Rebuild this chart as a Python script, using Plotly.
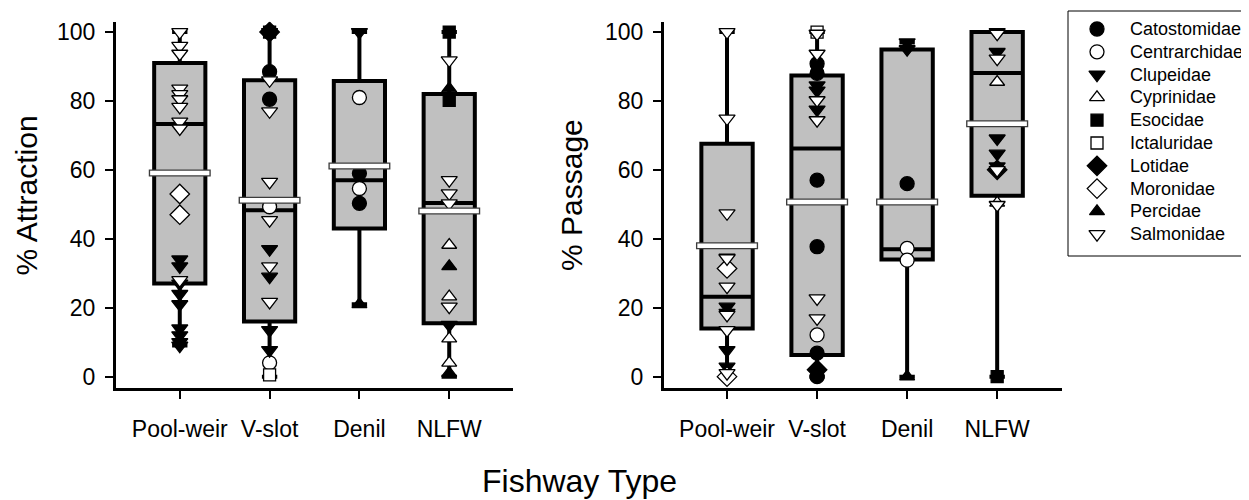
import plotly.graph_objects as go

fishways = ["Pool-weir", "V-slot", "Denil", "NLFW"]
xpos = [1, 2, 3, 4]

# ---- Box statistics: % Attraction ----
att_min = [9, 0, 21, 0]
att_q1 = [27, 16, 43, 15.5]
att_median = [73.3, 48.3, 57, 50.4]
att_q3 = [91, 86, 85.8, 82]
att_max = [100, 100, 100, 100]
att_mean = [59.1, 51.2, 61.1, 48.1]

# ---- Box statistics: % Passage ----
pas_min = [0, 0, 0, 0]
pas_q1 = [14, 6.3, 34, 52.5]
pas_median = [23.2, 66.2, 37, 88.1]
pas_q3 = [67.6, 87.4, 94.9, 100]
pas_max = [100, 100, 97, 100]
pas_mean = [38, 50.7, 50.7, 73.4]

# ---- Family points, % Attraction ----
att_catostomidae = {"V-slot": [100, 88.5, 80.5], "Denil": [59, 50.3]}
att_centrarchidae = {"V-slot": [49.3, 4], "Denil": [81, 54.6]}
att_clupeidae = {"Pool-weir": [34, 32, 27, 24, 21, 14, 12, 10, 9],
                 "V-slot": [100, 37, 29, 13.5, 7.7], "Denil": [100], "NLFW": [15]}
att_cyprinidae = {"NLFW": [38.2, 23.2, 11, 4]}
att_esocidae = {"V-slot": [100], "NLFW": [100, 80.2]}
att_ictaluridae = {"V-slot": [0.5]}
att_lotidae = {"V-slot": [100]}
att_moronidae = {"Pool-weir": [53, 47]}
att_percidae = {"Denil": [21], "NLFW": [83.6, 32, 1]}
att_salmonidae = {"Pool-weir": [100, 96, 93.7, 83.6, 82, 80.5, 78.3, 74, 72, 28],
                  "V-slot": [86, 77, 56.5, 45.4, 32, 21.7],
                  "NLFW": [91.8, 57, 53.2, 50.3, 20.3]}

# ---- Family points, % Passage ----
pas_catostomidae = {"V-slot": [90.8, 88, 57, 37.7, 6.8, 0], "Denil": [56]}
pas_centrarchidae = {"V-slot": [12.1], "Denil": [37.2, 33.8]}
pas_clupeidae = {"Pool-weir": [34.5, 20.3, 18.5, 7.7, 2.9],
                 "V-slot": [84.5, 83, 77.5], "Denil": [97, 95],
                 "NLFW": [100, 94.2, 69.1, 64.7, 61]}
pas_cyprinidae = {"NLFW": [85.5, 50.4]}
pas_esocidae = {"NLFW": [0]}
pas_ictaluridae = {"V-slot": [100]}
pas_lotidae = {"V-slot": [2], "NLFW": [60]}
pas_moronidae = {"Pool-weir": [31.4, 0]}
pas_percidae = {"Denil": [0]}
pas_salmonidae = {"Pool-weir": [100, 74.9, 47.4, 34.3, 26.1, 17.9, 13.5, 1],
                  "V-slot": [99.5, 93.7, 80.2, 74.4, 22.7, 16.9],
                  "NLFW": [99.5, 92.3, 59.9, 49.8]}

families = ["Catostomidae", "Centrarchidae", "Clupeidae", "Cyprinidae", "Esocidae",
            "Ictaluridae", "Lotidae", "Moronidae", "Percidae", "Salmonidae"]
att_sets = [att_catostomidae, att_centrarchidae, att_clupeidae, att_cyprinidae, att_esocidae,
            att_ictaluridae, att_lotidae, att_moronidae, att_percidae, att_salmonidae]
pas_sets = [pas_catostomidae, pas_centrarchidae, pas_clupeidae, pas_cyprinidae, pas_esocidae,
            pas_ictaluridae, pas_lotidae, pas_moronidae, pas_percidae, pas_salmonidae]
symbols = ["circle", "circle", "triangle-down", "triangle-up", "square",
           "square", "diamond", "diamond", "triangle-up", "triangle-down"]
fills = ["black", "white", "black", "white", "black",
         "white", "black", "white", "black", "white"]
marker_sizes = [14, 14, 14, 13, 12, 12, 15, 15, 13, 14]

FONT = "Arial, 'Liberation Sans', sans-serif"
BOX_W = 0.57
MEAN_HALF = 0.345

# The page body has an 8px margin: work in page pixels and convert to figure fractions.
PAGE_OFF = 8
W, H = 1249 - PAGE_OFF, 500 - PAGE_OFF


def fx(page_x):
    return (page_x - PAGE_OFF) / W


def fy(page_y):
    return 1 - (page_y - PAGE_OFF) / H


fig = go.Figure()

panels = [
    ("x", "y", att_min, att_q1, att_median, att_q3, att_max, att_mean, att_sets),
    ("x2", "y2", pas_min, pas_q1, pas_median, pas_q3, pas_max, pas_mean, pas_sets),
]

for pi, (xa, ya, mn, q1, md, q3, mx, mean, sets) in enumerate(panels):
    fig.add_trace(go.Box(
        x=xpos, q1=q1, median=md, q3=q3, lowerfence=mn, upperfence=mx,
        width=BOX_W, whiskerwidth=0.3, boxpoints=False,
        fillcolor="rgb(192,192,192)", line=dict(color="black", width=4),
        hoverinfo="skip", xaxis=xa, yaxis=ya))
    for fi, fam in enumerate(families):
        xs, ys = [], []
        for name, vals in sets[fi].items():
            k = xpos[fishways.index(name)]
            xs += [k] * len(vals)
            ys += vals
        fig.add_trace(go.Scatter(
            x=xs, y=ys, mode="markers", name=fam,
            marker=dict(symbol=symbols[fi], size=marker_sizes[fi], color=fills[fi],
                        line=dict(color="black", width=1.3)),
            xaxis=xa, yaxis=ya))
    # mean lines (white with dark outline)
    for k, m in zip(xpos, mean):
        fig.add_trace(go.Scatter(x=[k - MEAN_HALF, k + MEAN_HALF], y=[m, m], mode="lines",
                                 line=dict(color="rgb(60,60,60)", width=7),
                                 hoverinfo="skip", xaxis=xa, yaxis=ya))
        fig.add_trace(go.Scatter(x=[k - MEAN_HALF + 0.015, k + MEAN_HALF - 0.015], y=[m, m],
                                 mode="lines", line=dict(color="white", width=4.5),
                                 hoverinfo="skip", xaxis=xa, yaxis=ya))

# ---- Legend (drawn on an overlay axis scaled in page pixels) ----
LEG_LEFT, LEG_TOP, LEG_BOTTOM = 1068, 11, 256
LEG_SYM_X, LEG_TEXT_X, LEG_ROW0, LEG_STEP = 1097, 1128, 29, 22.8
leg_rows = [LEG_ROW0 + LEG_STEP * i for i in range(len(families))]
for fi, fam in enumerate(families):
    fig.add_trace(go.Scatter(
        x=[LEG_SYM_X], y=[leg_rows[fi]], mode="markers", hoverinfo="skip",
        marker=dict(symbol=symbols[fi], size=marker_sizes[fi], color=fills[fi],
                    line=dict(color="black", width=1.3)),
        xaxis="x3", yaxis="y3"))

annotations = [
    dict(text=fam, x=LEG_TEXT_X, y=leg_rows[fi], xref="x3", yref="y3", xanchor="left",
         yanchor="middle", showarrow=False, font=dict(size=18, family=FONT, color="black"))
    for fi, fam in enumerate(families)
]
annotations += [
    dict(text="% Attraction", x=fx(26.5), y=fy(196), xref="paper", yref="paper",
         xanchor="center", yanchor="middle", textangle=-90, showarrow=False,
         font=dict(size=30, family=FONT, color="black")),
    dict(text="% Passage", x=fx(571), y=fy(195), xref="paper", yref="paper",
         xanchor="center", yanchor="middle", textangle=-90, showarrow=False,
         font=dict(size=30, family=FONT, color="black")),
    dict(text="Fishway Type", x=fx(579), y=fy(481), xref="paper", yref="paper",
         xanchor="center", yanchor="middle", showarrow=False,
         font=dict(size=32, family=FONT, color="black")),
]

common_x = dict(showline=True, linewidth=3, linecolor="black", ticks="outside", ticklen=8,
                tickwidth=2, tickcolor="black", tickvals=xpos, ticktext=fishways,
                showgrid=False, zeroline=False, automargin=False, ticklabelstandoff=10,
                tickfont=dict(family=FONT, size=23, color="black"))
common_y = dict(showline=True, linewidth=3, linecolor="black", ticks="outside", ticklen=8,
                tickwidth=2, tickcolor="black", tickvals=[0, 20, 40, 60, 80, 100],
                range=[-3.3, 103], showgrid=False, zeroline=False, automargin=False,
                ticklabelstandoff=5, tickfont=dict(family=FONT, size=23, color="black"))

fig.update_layout(
    width=W, height=H, margin=dict(l=0, r=0, t=0, b=0),
    paper_bgcolor="white", plot_bgcolor="rgba(0,0,0,0)", showlegend=False,
    xaxis=dict(domain=[fx(116), fx(513)], range=[0.29, 4.71], anchor="y", **common_x),
    yaxis=dict(domain=[fy(388), fy(21.7)], anchor="x", **common_y),
    xaxis2=dict(domain=[fx(664), fx(1062)], range=[0.30, 4.72], anchor="y2", **common_x),
    yaxis2=dict(domain=[fy(388), fy(21.7)], anchor="x2", **common_y),
    xaxis3=dict(domain=[0, 1], range=[PAGE_OFF, PAGE_OFF + W], visible=False,
                anchor="y3", fixedrange=True),
    yaxis3=dict(domain=[0, 1], range=[PAGE_OFF + H, PAGE_OFF], visible=False,
                anchor="x3", fixedrange=True),
    shapes=[dict(type="rect", xref="x3", yref="y3", x0=LEG_LEFT, x1=PAGE_OFF + W + 10,
                 y0=LEG_TOP, y1=LEG_BOTTOM, line=dict(color="black", width=1),
                 fillcolor="rgba(0,0,0,0)", layer="below")],
    font=dict(family=FONT, color="black"),
    annotations=annotations,
)

fig.write_html("out.html")
